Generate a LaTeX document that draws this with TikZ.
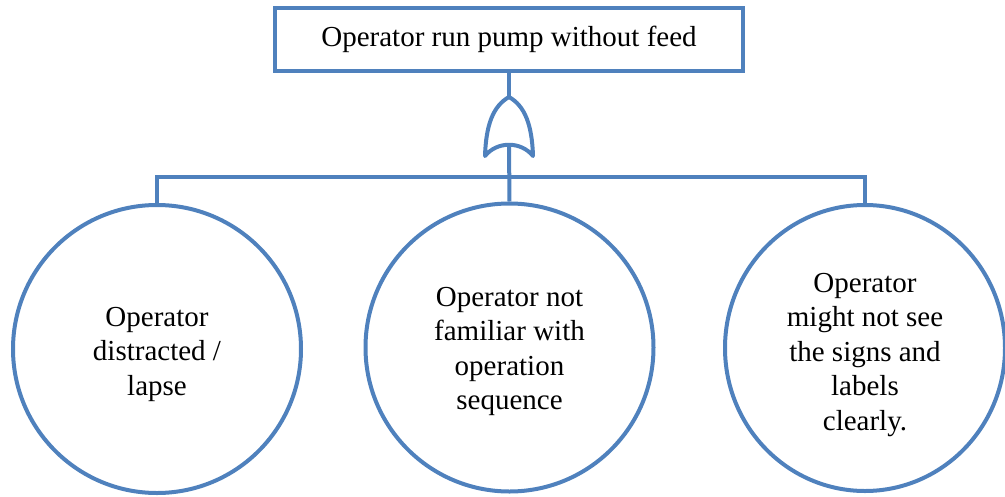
\documentclass[tikz,border=0pt]{standalone}
\usepackage{fontspec}
\setmainfont{Liberation Serif}
\usetikzlibrary{shapes.geometric}
\definecolor{ftblue}{HTML}{4F81BD}
\begin{document}
\begin{tikzpicture}[x=1pt,y=-1pt,
  conn/.style={draw=ftblue,line width=4pt},
  evtext/.style={align=center,inner sep=0pt,font=\fontsize{29}{34.5}\selectfont},
  evbox/.style={draw=ftblue,line width=4pt,rectangle,minimum width=468pt,minimum height=63pt,inner sep=0pt,font=\fontsize{29}{34}\selectfont},
  evcirc/.style={draw=ftblue,line width=4pt,circle,minimum size=288pt,inner sep=0pt},
  evell/.style={draw=ftblue,line width=4pt,ellipse,minimum width=280pt,minimum height=286pt,inner sep=0pt}]
\useasboundingbox (0,0) rectangle (1005,496);
\node[evbox] (top) at (509,39.5) {Operator run pump without feed};
\node[evcirc,label={[evtext,yshift=-5pt]center:Operator\\distracted /\\lapse}] (c1) at (157,349) {};
\node[evcirc,label={[evtext,yshift=-4pt]center:Operator not\\familiar with\\operation\\sequence}] (c2) at (509.5,347.5) {};
\node[evell,label={[evtext,yshift=-7pt]center:Operator\\might not see\\the signs and\\labels\\clearly.}] (c3) at (865,348) {};
\coordinate (gtip) at (509,97);
\coordinate (gbot) at (509,145);
\coordinate (bar) at (509,177);
\draw[conn,line cap=round,line join=round] (gtip) .. controls (493,106) and (486,125) .. (485,156)
  .. controls (497,141) and (521,141) .. (533,156)
  .. controls (532,125) and (525,106) .. (gtip);
\draw[conn] (top.south) -- (gtip);
\draw[conn] (gbot) -- (c2.north);
\draw[conn] (c1.north) |- (bar) -| (c3.north);
\end{tikzpicture}
\end{document}
